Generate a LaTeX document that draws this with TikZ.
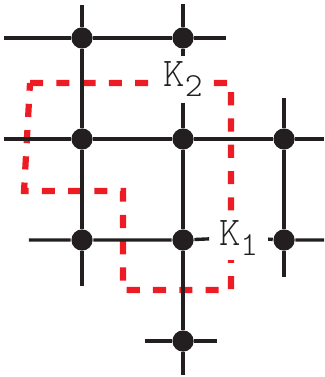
\documentclass[tikz,border=0pt]{standalone}
\usepackage{fontspec}
\newfontfamily\kfont{Latin Modern Mono Light}
\usepackage{tikz}
\usepackage{xcolor}
\definecolor{loopred}{RGB}{237,28,36}
\definecolor{inkblack}{RGB}{35,31,32}
\newcommand{\kname}[1]{\kfont\fontsize{11.5}{11.5}\selectfont K\raisebox{-2.8pt}{\fontsize{9.5}{9.5}\selectfont #1}}

\begin{document}
\begin{tikzpicture}[
    site/.style={circle,fill=inkblack,inner sep=0pt,minimum size=0.21cm},
    bond/.style={line width=0.95pt,inkblack},
    loop/.style={loopred,line width=1.75pt,dash pattern=on 3.7pt off 3.7pt},
    klab/.style={fill=white,inner ysep=1.5pt,inner xsep=2.6pt,anchor=base,text=inkblack}]
            \useasboundingbox (-0.812,-1.356) rectangle (2.396,2.376);
            % red loop
            \draw[loop] (-0.515,1.554) -- (1.475,1.554) -- (1.475,-0.495) -- (0.406,-0.495)
                -- (0.406,0.485) -- (-0.574,0.485) -- cycle;
            % labels
            \node[klab] (k2) at (1,1.515) {\kname{2}};
            \node[klab] (k1) at (1.55,-0.05) {\kname{1}};
            % sites
            \node[site] (a2) at (0,2) {};
            \node[site] (b2) at (1,2) {};
            \node[site] (a1) at (0,1) {};
            \node[site] (b1) at (1,1) {};
            \node[site] (c1) at (2,1) {};
            \node[site] (a0) at (0,0) {};
            \node[site] (b0) at (1,0) {};
            \node[site] (c0) at (2,0) {};
            \node[site] (bm) at (1,-1) {};
            % free ends
            \coordinate (w2) at (-0.772,2);
            \coordinate (e2) at (1.426,2);
            \coordinate (w1) at (-0.772,1);
            \coordinate (e1) at (2.396,1);
            \coordinate (w0) at (-0.525,0);
            \coordinate (e0) at (2.396,0);
            \coordinate (wm) at (0.624,-1);
            \coordinate (em) at (1.337,-1);
            \coordinate (na) at (0,2.327);
            \coordinate (sa) at (0,-0.455);
            \coordinate (nb) at (1,2.337);
            \coordinate (sb) at (1,-1.337);
            \coordinate (nc) at (2,1.406);
            \coordinate (sc) at (2,-0.366);
            % bonds
            \draw[bond] (w2) -- (a2) -- (b2) -- (e2);
            \draw[bond] (w1) -- (a1) -- (b1) -- (c1) -- (e1);
            \draw[bond] (w0) -- (a0) -- (b0) -- (k1) -- (c0) -- (e0);
            \draw[bond] (wm) -- (bm) -- (em);
            \draw[bond] (na) -- (a2) -- (a1) -- (a0) -- (sa);
            \draw[bond] (nb) -- (b2) -- (k2) -- (b1) -- (b0) -- (bm) -- (sb);
            \draw[bond] (nc) -- (c1) -- (c0) -- (sc);
        \end{tikzpicture}
\end{document}
